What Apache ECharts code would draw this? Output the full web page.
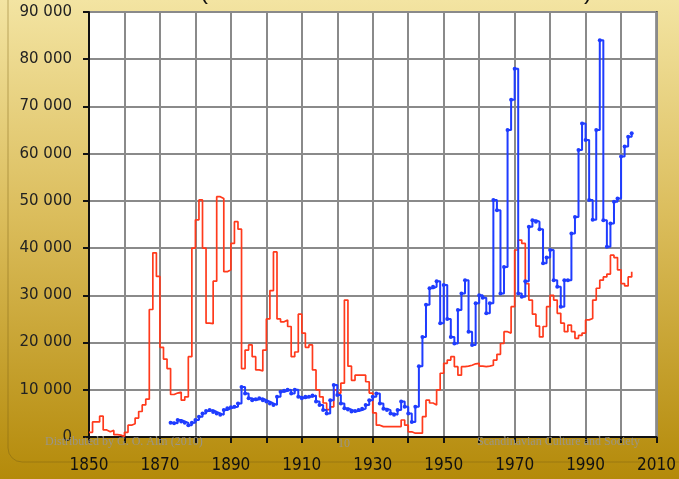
<!DOCTYPE html>
<html><head><meta charset="utf-8">
<script src="https://cdn.jsdelivr.net/npm/echarts@6/dist/echarts.min.js"></script>
<style>html,body{margin:0;padding:0;}#c{width:679px;height:479px;}</style>
</head><body><div id="c"></div>
<script>
// Red series: annual values from 1850
const redStartYear = 1850;
const redValues = [
  1000,3200,3200,4400,1500,1100,1400,500,400,100,
  1000,2500,2800,4000,5400,6800,8000,27000,39000,34000,
  19000,16500,14500,9000,9300,9500,7800,8500,17000,40000,
  46000,50200,40000,24100,24000,33000,50900,50500,35000,35400,
  41000,45600,44000,14500,18400,19500,17000,14200,14000,18400,
  25000,31000,39200,25000,24400,24800,23400,17000,18000,26000,
  22000,19000,19500,14200,10000,8500,7200,5800,6400,10000,
  9300,11400,29000,15000,12000,13100,13100,13100,11700,9300,
  5100,2500,2200,2200,2200,2200,2200,2200,3600,2500,
  1100,800,800,800,4300,7800,7200,6800,10000,13500,
  15600,16300,17000,14900,13100,14900,15000,15200,15500,15600,
  15000,14900,15000,15200,16300,17500,19800,22300,22000,27600,
  39600,41700,41000,32500,29000,26000,23500,21200,23400,27600,
  30000,29000,26200,24100,22300,23700,22300,20900,21500,22000,
  24800,25100,29000,31500,33200,33900,34500,38500,38000,35400,
  32500,32000,33900,35000
];
// Blue series: annual values from 1873
const blueStartYear = 1873;
const blueValues = [
  3000,2900,3600,3300,3000,2500,3000,
  3600,4300,5000,5500,5700,5300,5000,4700,5700,6100,
  6300,6400,7100,10600,9200,8200,7800,8000,8200,7800,
  7500,7100,6800,8500,9600,9800,10000,9200,10000,8500,
  8200,8500,8500,8800,7500,6800,5700,5000,7800,11000,
  8900,7100,6100,5800,5400,5500,5700,6000,6800,7800,
  8500,9200,7100,6000,5700,5000,4700,5700,7500,6400,
  5000,3200,6400,15000,21200,28000,31500,31800,33000,24100,
  32200,25000,21200,19800,26900,30400,33200,22300,19500,28300,
  30000,29500,26200,28300,50200,48000,30400,36000,65000,71400,
  78000,30400,29700,33000,44500,45900,45600,44000,36800,38000,
  39600,33200,31800,27600,33200,33200,43100,46600,60800,66400,
  62900,50200,46000,65000,84000,45900,40300,45200,49800,50500,
  59400,61500,63600,64300
];
const xTickLabels = ['1850','1870','1890','1910','1930','1950','1970','1990','2010'];
const yTickLabels = ['0','10 000','20 000','30 000','40 000','50 000','60 000','70 000','80 000','90 000'];

const redData = redValues.map((v, i) => [redStartYear + i, v]);
const blueData = blueValues.map((v, i) => [blueStartYear + i, v]);

const chart = echarts.init(document.getElementById('c'), null, {renderer: 'canvas'});
chart.setOption({
  animation: false,
  backgroundColor: {
    type: 'linear', x: 0, y: 0, x2: 0, y2: 1,
    colorStops: [
      {offset: 0, color: '#f3e4a2'},
      {offset: 0.45, color: '#dbbd5c'},
      {offset: 1, color: '#b48a0a'}
    ]
  },
  graphic: [
    {type: 'rect', z: -1, silent: true,
     shape: {x: 8, y: -30, width: 720, height: 492, r: 14},
     style: {fill: 'none', stroke: 'rgba(120,95,20,0.45)', lineWidth: 1}},
    {type: 'text', left: 200, top: -20, silent: true,
     style: {text: '(', font: '24px "Liberation Sans", Arial', fill: '#111'}},
    {type: 'text', left: 584, top: -20, silent: true,
     style: {text: ')', font: '24px "Liberation Sans", Arial', fill: '#111'}},
    {type: 'text', left: 45, top: 436, silent: true, z: 10,
     style: {text: 'Distributed by G. O. Alm (2010)', font: '12px "Liberation Serif", "Times New Roman", serif', fill: '#9a9588'}},
    {type: 'text', left: 338, top: 438, silent: true, z: 10,
     style: {text: '10', font: '12px "Liberation Serif", "Times New Roman", serif', fill: '#9a9588'}},
    {type: 'text', left: 477, top: 436, silent: true, z: 10,
     style: {text: 'Scandinavian Culture and Society', font: '12px "Liberation Serif", "Times New Roman", serif', fill: '#9a9588'}}
  ],
  grid: {left: 89, right: 18, top: 12, bottom: 42, show: true, backgroundColor: '#ffffff', borderColor: '#222', borderWidth: 2},
  xAxis: {
    type: 'value', min: 1850, max: 2010, interval: 10,
    axisLine: {show: true, lineStyle: {color: '#111', width: 2}},
    axisTick: {show: true, length: 6, lineStyle: {color: '#111', width: 2}},
    splitLine: {show: true, lineStyle: {color: '#8a8a8a', width: 2}},
    axisLabel: {
      margin: 20, color: '#111', fontSize: 17, fontFamily: '"DejaVu Sans Condensed", "Liberation Sans Narrow", sans-serif',
      formatter: v => { const s = String(v); return xTickLabels.indexOf(s) >= 0 ? s : ''; }
    }
  },
  yAxis: {
    type: 'value', min: 0, max: 90000, interval: 10000,
    axisLine: {show: true, lineStyle: {color: '#111', width: 2}},
    axisTick: {show: true, length: 6, lineStyle: {color: '#111', width: 2}},
    splitLine: {show: true, lineStyle: {color: '#8a8a8a', width: 2}},
    axisLabel: {
      margin: 17, color: '#222', fontSize: 15, fontFamily: '"DejaVu Sans", sans-serif',
      formatter: v => yTickLabels[Math.round(v / 10000)]
    }
  },
  series: [
    {type: 'line', name: 'red', data: redData, step: 'end', showSymbol: false,
     lineStyle: {color: '#ff3a1c', width: 1.7}, z: 3},
    {type: 'line', name: 'blue', data: blueData, step: 'end', symbol: 'circle', symbolSize: 4, showSymbol: true,
     itemStyle: {color: '#1f3cff'}, lineStyle: {color: '#1f3cff', width: 2}, z: 4}
  ]
});
</script></body></html>
